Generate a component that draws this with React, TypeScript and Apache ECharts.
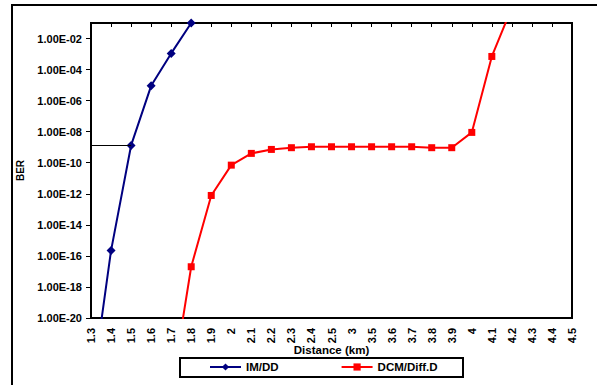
import React, { useEffect, useRef } from "react";
import * as echarts from "echarts";

const categories = [
  "1.3", "1.4", "1.5", "1.6", "1.7", "1.8", "1.9", "2", "2.1", "2.2", "2.3", "2.4", "2.5",
  "3", "3.5", "3.6", "3.7", "3.8", "3.9", "4", "4.1", "4.2", "4.3", "4.4", "4.5",
];

const imddBer = [
  1e-25, 2.2e-16, 1.3e-9, 9e-6, 1.1e-3, 0.1,
  null, null, null, null, null, null, null, null, null, null, null, null, null, null, null, null, null, null, null,
];

const dcmBer = [
  null, null, null, null,
  1.7e-25, 2e-17, 7.8e-13, 7e-11, 4e-10, 7.2e-10, 9.3e-10,
  1.07e-9, 1.07e-9, 1.07e-9, 1.07e-9, 1.07e-9, 1.07e-9,
  9.3e-10, 9.3e-10, 9e-9, 7e-4, 1,
  null, null, null,
];

const seriesNames = ["IM/DD", "DCM/Diff.D"];
const yMin = 1e-20;
const yMax = 0.1;
const FONT = "Liberation Sans, Arial, sans-serif";

function fmtBer(v: number) {
  const e = Math.round(Math.log10(v));
  const sign = e < 0 ? "-" : "+";
  return "1.00E" + sign + String(Math.abs(e)).padStart(2, "0");
}

export default function App() {
  const ref = useRef<HTMLDivElement>(null);
  useEffect(() => {
    if (!ref.current) return;
    const chart = echarts.init(ref.current, undefined, { renderer: "svg" });
    const option: any = {
      animation: false,
      backgroundColor: "#fff",
      textStyle: { fontFamily: FONT },
      grid: {
        left: 91,
        right: 25,
        top: 23,
        bottom: 67,
        show: true,
        borderColor: "#000",
        borderWidth: 2,
        backgroundColor: "transparent",
      },
      legend: {
        left: 209,
        top: 361,
        itemWidth: 31,
        itemHeight: 9,
        itemGap: 62,
        padding: 0,
        textStyle: { fontFamily: FONT, fontWeight: "bold", fontSize: 11.5, color: "#000" },
        data: seriesNames,
      },
      graphic: [
        {
          type: "rect",
          shape: { x: 12, y: 5, width: 600, height: 400 },
          style: { fill: "none", stroke: "#000", lineWidth: 2 },
          silent: true,
        },
        {
          type: "rect",
          shape: { x: 180, y: 358, width: 283, height: 19 },
          style: { fill: "none", stroke: "#000", lineWidth: 2 },
          silent: true,
        },
      ],
      xAxis: [
        {
          type: "category",
          data: categories,
          boundaryGap: false,
          position: "bottom",
          axisLine: { show: true, lineStyle: { color: "#000", width: 2 } },
          axisTick: { show: false },
          splitLine: { show: false },
          axisLabel: {
            interval: 0,
            rotate: 90,
            margin: 10,
            color: "#000",
            fontWeight: "bold",
            fontSize: 11,
            fontFamily: FONT,
          },
          name: "Distance (km)",
          nameLocation: "middle",
          nameGap: 32,
          nameMoveOverlap: false,
          nameTextStyle: {
            color: "#000",
            fontWeight: "bold",
            fontSize: 11.5,
            fontFamily: FONT,
            verticalAlign: "middle",
          },
        },
        {
          type: "category",
          data: categories,
          boundaryGap: false,
          position: "top",
          axisLine: { show: false },
          axisTick: { show: true, inside: true, length: 4, interval: 0, lineStyle: { color: "#000", width: 1 } },
          axisLabel: { show: false },
          splitLine: { show: false },
        },
      ],
      yAxis: {
        type: "log",
        logBase: 10,
        min: yMin,
        max: yMax,
        interval: 2,
        splitNumber: 10,
        axisLine: { show: true, lineStyle: { color: "#000", width: 2 } },
        axisTick: { show: true, length: 5, lineStyle: { color: "#000", width: 1 } },
        splitLine: { show: false },
        minorTick: { show: false },
        axisLabel: {
          margin: 9,
          color: "#000",
          fontWeight: "bold",
          fontSize: 11,
          fontFamily: FONT,
          showMaxLabel: false,
          formatter: (v: number) => fmtBer(v),
        },
        name: "BER",
        nameLocation: "middle",
        nameGap: 66,
        nameMoveOverlap: false,
        nameTextStyle: { color: "#000", fontWeight: "bold", fontSize: 10, fontFamily: FONT },
      },
      series: [
        {
          name: seriesNames[0],
          type: "line",
          data: imddBer,
          clip: true,
          symbol: "diamond",
          symbolSize: 9,
          itemStyle: { color: "#000080" },
          lineStyle: { color: "#000080", width: 2 },
          markLine: {
            silent: true,
            symbol: ["none", "none"],
            label: { show: false },
            lineStyle: { color: "#000", width: 1, type: "solid" },
            data: [[{ coord: [categories[0], imddBer[2]] }, { coord: [categories[2], imddBer[2]] }]],
          },
        },
        {
          name: seriesNames[1],
          type: "line",
          data: dcmBer,
          clip: true,
          symbol: "rect",
          symbolSize: 7,
          itemStyle: { color: "#ff0000" },
          lineStyle: { color: "#ff0000", width: 2 },
        },
      ],
    };
    chart.setOption(option);
    return () => chart.dispose();
  }, []);
  return (
    <div
      ref={ref}
      style={{ position: "fixed", left: 0, top: 0, width: 597, height: 385, background: "#fff" }}
    />
  );
}
